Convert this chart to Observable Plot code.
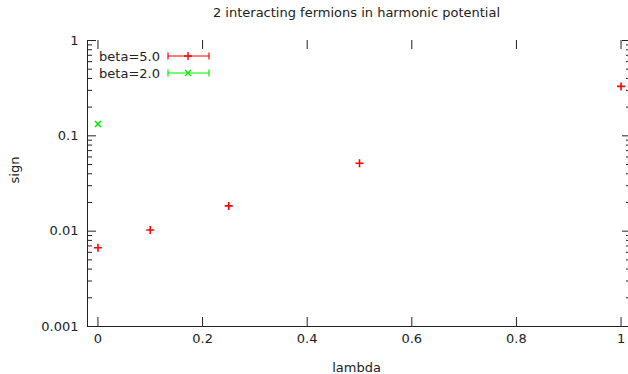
<!DOCTYPE html>
<html>
<head>
<meta charset="utf-8">
<script src="https://cdn.jsdelivr.net/npm/d3@7"></script>
<script src="https://cdn.jsdelivr.net/npm/@observablehq/plot@0.6"></script>
<style>
  html, body { margin: 0; padding: 0; background: #fff; overflow: hidden; }
  svg { font-family: "DejaVu Sans", sans-serif; }
</style>
</head>
<body>
<div id="chart"></div>
<script>
const title = "2 interacting fermions in harmonic potential";
const xLabel = "lambda";
const yLabel = "sign";

// beta = 5.0 series
const lambda5 = [0, 0.1, 0.25, 0.5, 1.0];
const sign5 = [0.0067, 0.0103, 0.0184, 0.0515, 0.33];
// beta = 2.0 series
const lambda2 = [0];
const sign2 = [0.133];

const xTicks = [0, 0.2, 0.4, 0.6, 0.8, 1];
const xTickLabels = ["0", "0.2", "0.4", "0.6", "0.8", "1"];
const yMajor = [0.001, 0.01, 0.1, 1];
const yTickLabels = ["0.001", "0.01", "0.1", "1"];
const yMinor = [];
for (const d of [0.001, 0.01, 0.1]) for (let k = 2; k <= 9; k++) yMinor.push(+(d * k).toPrecision(3));

const s5 = lambda5.map((x, i) => ({x, y: sign5[i]}));
const s2 = lambda2.map((x, i) => ({x, y: sign2[i]}));

const W = 628, H = 374;
const mL = 87, mR = -3, mT = 40, mB = 48;
const pw = W - mL - mR, ph = H - mT - mB;

const plusSym = {draw(ctx, size) { const r = Math.sqrt(size / Math.PI); ctx.moveTo(-r, 0); ctx.lineTo(r, 0); ctx.moveTo(0, -r); ctx.lineTo(0, r); }};
const timesSym = {draw(ctx, size) { const r = Math.sqrt(size / Math.PI) * 0.75; ctx.moveTo(-r, -r); ctx.lineTo(r, r); ctx.moveTo(-r, r); ctx.lineTo(r, -r); }};

const axisColor = "#222";
const fs = 13;
const chart = Plot.plot({
  width: W, height: H,
  marginLeft: mL, marginRight: mR, marginTop: mT, marginBottom: mB,
  style: {fontFamily: "DejaVu Sans, sans-serif", fontSize: fs + "px", color: "#222", background: "#fff"},
  x: {domain: [-0.02, 1.02], axis: null},
  y: {type: "log", domain: [0.001, 1], axis: null},
  marks: [
    // tick labels
    Plot.text(xTicks, {x: d => d, frameAnchor: "bottom", dy: 16, text: (d, i) => xTickLabels[i], fill: "#222", fontSize: fs}),
    Plot.text(yMajor, {y: d => d, frameAnchor: "left", dx: -9, textAnchor: "end", text: (d, i) => yTickLabels[i], fill: "#222", fontSize: fs}),
    // ticks (inward, mirrored)
    Plot.ruleX(xTicks, {x: d => d, insetTop: ph - 9, stroke: axisColor}),
    Plot.ruleX(xTicks, {x: d => d, insetBottom: ph - 9, stroke: axisColor}),
    Plot.ruleY(yMajor, {y: d => d, insetRight: pw - 9, stroke: axisColor}),
    Plot.ruleY(yMajor, {y: d => d, insetLeft: pw - 9, stroke: axisColor}),
    Plot.ruleY(yMinor, {y: d => d, insetRight: pw - 5, stroke: axisColor}),
    Plot.ruleY(yMinor, {y: d => d, insetLeft: pw - 5, stroke: axisColor}),
    // border
    Plot.ruleX([-0.02], {stroke: axisColor}),
    Plot.ruleY([0.001], {stroke: axisColor}),
    // data
    Plot.dot(s5, {x: "x", y: "y", symbol: plusSym, r: 4, stroke: "#ff0000", fill: "none", strokeWidth: 1.6}),
    Plot.dot(s2, {x: "x", y: "y", symbol: timesSym, r: 4, stroke: "#00ee00", fill: "none", strokeWidth: 1.6}),
    // title & axis labels
    Plot.text([title], {frameAnchor: "top", dx: -3, dy: -33, fill: "#222", fontSize: fs}),
    Plot.text([xLabel], {frameAnchor: "bottom", dx: -3, dy: 45, fill: "#222", fontSize: fs}),
    Plot.text([yLabel], {frameAnchor: "left", dx: -73, rotate: -90, fill: "#222", fontSize: fs})
  ]
});

// legend
const svg = d3.select(chart);
const legend = [
  {label: "beta=5.0", color: "#ff0000", sym: plusSym, y: 56},
  {label: "beta=2.0", color: "#00ee00", sym: timesSym, y: 73}
];
const g = svg.append("g");
for (const L of legend) {
  g.append("text").attr("x", 160).attr("y", L.y).attr("dy", "0.35em").attr("text-anchor", "end")
    .attr("fill", "#222").style("font-size", fs + "px").text(L.label);
  g.append("line").attr("x1", 168).attr("x2", 209).attr("y1", L.y).attr("y2", L.y).attr("stroke", L.color).attr("stroke-width", 1);
  for (const xx of [168, 209]) g.append("line").attr("x1", xx).attr("x2", xx).attr("y1", L.y - 3.5).attr("y2", L.y + 3.5).attr("stroke", L.color).attr("stroke-width", 1.2);
  const p = d3.path(); L.sym.draw(p, Math.PI * 16);
  g.append("path").attr("d", p.toString()).attr("transform", `translate(188,${L.y})`).attr("stroke", L.color).attr("fill", "none").attr("stroke-width", 1.4);
}

document.getElementById("chart").appendChild(chart);
</script>
</body>
</html>
